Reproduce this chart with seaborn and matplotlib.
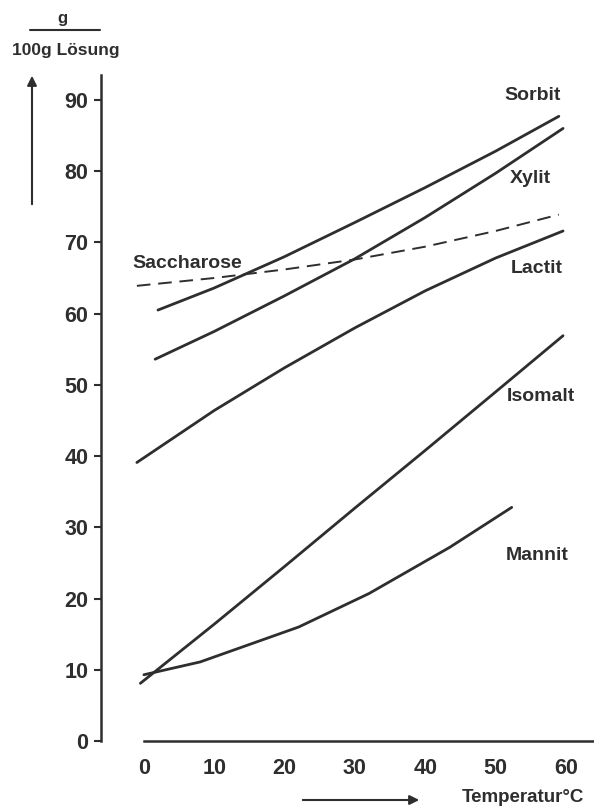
import numpy as np
import pandas as pd
import matplotlib
matplotlib.use('Agg')
import matplotlib.pyplot as plt
import seaborn as sns

# Löslichkeit (g / 100 g Lösung) gegen Temperatur
sorbit_t = [2, 10, 20, 30, 40, 50, 59]
sorbit_y = [60.5, 63.6, 68.0, 72.8, 77.7, 82.8, 87.7]

xylit_t = [1.6, 10, 20, 30, 40, 50, 59.6]
xylit_y = [53.6, 57.5, 62.5, 67.7, 73.5, 79.7, 86.0]

saccharose_t = [-1, 10, 20, 30, 40, 50, 59]
saccharose_y = [63.9, 65.0, 66.2, 67.6, 69.4, 71.6, 73.9]

lactit_t = [-1, 10, 20, 30, 40, 50, 59.6]
lactit_y = [39.1, 46.4, 52.4, 58.0, 63.2, 67.8, 71.6]

isomalt_t = [-0.5, 10, 20, 30, 40, 50, 59.6]
isomalt_y = [8.1, 16.4, 24.5, 32.7, 40.8, 49.0, 56.9]

mannit_t = [0, 8, 22, 32, 43.5, 52.3]
mannit_y = [9.3, 11.1, 16.0, 20.7, 27.2, 32.8]

x_ticks = [0, 10, 20, 30, 40, 50, 60]
y_ticks = [0, 10, 20, 30, 40, 50, 60, 70, 80, 90]

sns.set_style('white')
plt.rcParams['font.family'] = ['Liberation Sans', 'DejaVu Sans']
plt.rcParams['font.weight'] = 'bold'

ink = '#2e2e2e'
fig = plt.figure(figsize=(5.94, 8.09), dpi=100)
ax = fig.add_axes([101 / 594, 68 / 809, 493 / 594, 666 / 809])

# durchgezogene Kurven
for t, y in [(sorbit_t, sorbit_y), (xylit_t, xylit_y), (lactit_t, lactit_y),
             (isomalt_t, isomalt_y), (mannit_t, mannit_y)]:
    sns.lineplot(x=t, y=y, ax=ax, color=ink, linewidth=2.0, sort=False)

# Saccharose gestrichelt
sns.lineplot(x=saccharose_t, y=saccharose_y, ax=ax, color=ink, linewidth=1.4,
             dashes=False, linestyle=(0, (7, 4)), sort=False)

ax.set_xlim(-6.1, 64.0)
ax.set_ylim(0, 93.5)
ax.set_xticks(x_ticks)
ax.set_yticks(y_ticks)
ax.set_xticklabels([str(v) for v in x_ticks], fontsize=15.5, fontweight='bold', color=ink)
ax.set_yticklabels([str(v) for v in y_ticks], fontsize=15.5, fontweight='bold', color=ink)

for s in ['top', 'right']:
    ax.spines[s].set_visible(False)
ax.spines['bottom'].set_bounds(0, 64)
ax.spines['left'].set_bounds(0, 93.5)
for s in ['bottom', 'left']:
    ax.spines[s].set_color(ink)
    ax.spines[s].set_linewidth(1.8)

ax.tick_params(axis='x', direction='in', length=5, width=1.5, color=ink, pad=12)
ax.tick_params(axis='y', direction='out', length=5, width=1.5, color=ink, pad=4,
               left=True)
ax.set_xlabel('')
ax.set_ylabel('')

# Kurvenbeschriftungen
lab = dict(fontsize=14, fontweight='bold', color=ink, ha='center', va='center')
ax.text(55.2, 90.6, 'Sorbit', **lab)
ax.text(55.0, 79.0, 'Xylit', **lab)
ax.text(55.8, 66.3, 'Lactit', **lab)
ax.text(56.4, 48.3, 'Isomalt', **lab)
ax.text(55.9, 26.0, 'Mannit', **lab)
ax.text(6.1, 67.1, 'Saccharose', **lab)

# Achsentitel oben links (Bruch) mit Pfeil
fig.text(62 / 594, 1 - 18 / 809, 'g', fontsize=12, fontweight='bold', color=ink,
         ha='center', va='center')
fig.add_artist(plt.Line2D([30 / 594, 100 / 594], [1 - 30 / 809, 1 - 30 / 809],
                          color=ink, linewidth=1.5))
fig.text(66 / 594, 1 - 50 / 809, '100g Lösung', fontsize=12.5, fontweight='bold',
         color=ink, ha='center', va='center')
fig.add_artist(matplotlib.patches.FancyArrowPatch(
    (32 / 594, 1 - 207 / 809), (32 / 594, 1 - 73 / 809),
    transform=fig.transFigure, arrowstyle='-|>', mutation_scale=14,
    color=ink, linewidth=1.5))

# Temperaturpfeil unten
fig.add_artist(matplotlib.patches.FancyArrowPatch(
    (300 / 594, 1 - 800 / 809), (422 / 594, 1 - 800 / 809),
    transform=fig.transFigure, arrowstyle='-|>', mutation_scale=14,
    color=ink, linewidth=1.5))
fig.text(523 / 594, 1 - 798 / 809, 'Temperatur°C', fontsize=13.5, fontweight='bold',
         color=ink, ha='center', va='center')

fig.savefig('out.png', dpi=100, facecolor='white')
